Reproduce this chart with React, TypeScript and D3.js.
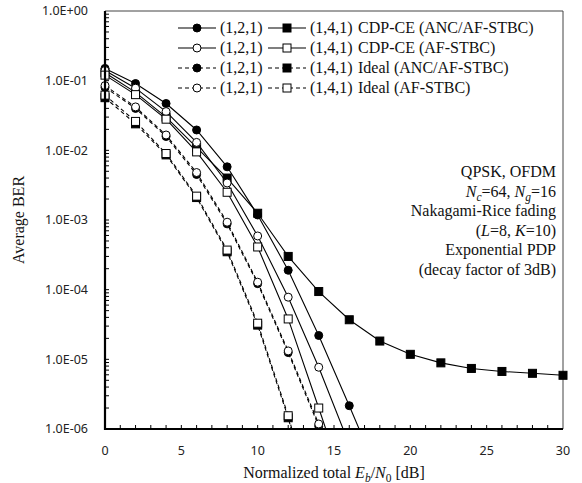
import React, { useRef, useEffect } from 'react';
import * as d3 from 'd3';

// tick values and labels
const xTicks = [0, 5, 10, 15, 20, 25, 30];
const yTicks = [1e-6, 1e-5, 1e-4, 1e-3, 1e-2, 1e-1, 1];
const yTickLabels = ['1.0E-06', '1.0E-05', '1.0E-04', '1.0E-03', '1.0E-02', '1.0E-01', '1.0E+00'];

// CDP-CE (ANC/AF-STBC)
const snrCdpAnc121 = [0, 2, 4, 6, 8, 10, 12, 14, 16, 18];
const cdpAnc121 = [0.15, 0.091, 0.047, 0.0196, 0.0058, 0.00118, 0.00019, 2.2e-5, 2.16e-6, 2.0e-7];
const snrCdpAnc141 = [0, 2, 4, 6, 8, 10, 12, 14, 16, 18, 20, 22, 24, 26, 28, 30];
const cdpAnc141 = [0.13, 0.068, 0.030, 0.011, 0.0040, 0.00125, 0.00030, 9.4e-5, 3.7e-5, 1.83e-5, 1.18e-5, 8.9e-6, 7.4e-6, 6.7e-6, 6.3e-6, 5.9e-6];

// CDP-CE (AF-STBC)
const snrCdpAf = [0, 2, 4, 6, 8, 10, 12, 14, 16];
const cdpAf121 = [0.14, 0.078, 0.036, 0.013, 0.0034, 0.00059, 7.8e-5, 7.7e-6, 6.0e-7];
const cdpAf141 = [0.12, 0.063, 0.028, 0.0095, 0.0025, 0.00041, 3.8e-5, 2.0e-6, 1.0e-7];

// Ideal channel estimation
const snrIdeal121 = [0, 2, 4, 6, 8, 10, 12, 14, 16];
const idealAnc121 = [0.08, 0.040, 0.0158, 0.0045, 0.00088, 0.000122, 1.25e-5, 1.1e-6, 7e-8];
const idealAf121 = [0.085, 0.042, 0.0166, 0.0048, 0.00093, 0.000128, 1.32e-5, 1.18e-6, 8e-8];
const snrIdeal141 = [0, 2, 4, 6, 8, 10, 12, 14];
const idealAnc141 = [0.057, 0.024, 0.0086, 0.0021, 0.00035, 3.1e-5, 1.45e-6, 3.5e-8];
const idealAf141 = [0.062, 0.026, 0.0090, 0.0022, 0.00037, 3.3e-5, 1.55e-6, 4e-8];

const configLabels = ['(1,2,1)', '(1,4,1)'];
const schemeLabels = ['CDP-CE (ANC/AF-STBC)', 'CDP-CE (AF-STBC)', 'Ideal (ANC/AF-STBC)', 'Ideal (AF-STBC)'];

const series = [
    { x: snrCdpAnc121, y: cdpAnc121, shape: 'circle', filled: true, dashed: false },
    { x: snrCdpAnc141, y: cdpAnc141, shape: 'square', filled: true, dashed: false },
    { x: snrCdpAf, y: cdpAf121, shape: 'circle', filled: false, dashed: false },
    { x: snrCdpAf, y: cdpAf141, shape: 'square', filled: false, dashed: false },
    { x: snrIdeal121, y: idealAnc121, shape: 'circle', filled: true, dashed: true },
    { x: snrIdeal141, y: idealAnc141, shape: 'square', filled: true, dashed: true },
    { x: snrIdeal121, y: idealAf121, shape: 'circle', filled: false, dashed: true },
    { x: snrIdeal141, y: idealAf141, shape: 'square', filled: false, dashed: true },
];

const W = 582;
const H = 483;
const SERIF = '"Liberation Serif", "Times New Roman", serif';
const SANS = '"Noto Sans", "Open Sans", sans-serif';
const FS = 16;

const drawMarker = (g, shape, filled, cx, cy) => {
    const fill = filled ? '#000' : '#fff';
    if (shape === 'circle') {
        g.append('circle').attr('cx', cx).attr('cy', cy).attr('r', 4)
            .attr('fill', fill).attr('stroke', '#000').attr('stroke-width', 1);
    } else {
        g.append('rect').attr('x', cx - 4).attr('y', cy - 4).attr('width', 8).attr('height', 8)
            .attr('fill', fill).attr('stroke', '#000').attr('stroke-width', 1);
    }
};

const BerChart = () => {
    const ref = useRef(null);

    useEffect(() => {
        document.body.style.margin = '0';
        const svg = d3.select(ref.current);
        svg.selectAll('*').remove();

        const left = 105, right = 563, top = 11, bottom = 429;
        const x = d3.scaleLinear().domain([0, 30]).range([left, right]);
        const y = d3.scaleLog().domain([1e-6, 1]).range([bottom, top]);

        svg.append('defs').append('clipPath').attr('id', 'plot-clip')
            .append('rect').attr('x', left - 6).attr('y', top).attr('width', right - left + 12).attr('height', bottom - top);

        // frame (thin top/right)
        svg.append('path')
            .attr('d', `M${left},${top}H${right}V${bottom}`)
            .attr('fill', 'none').attr('stroke', '#444').attr('stroke-width', 1);

        // minor ticks x (inside)
        const xMinor = d3.range(1, 30);
        svg.append('g').selectAll('line').data(xMinor).join('line')
            .attr('x1', d => x(d)).attr('x2', d => x(d))
            .attr('y1', bottom).attr('y2', bottom - 4)
            .attr('stroke', '#000').attr('stroke-width', 1);

        // minor ticks y (inside)
        const yMinor = [];
        for (let e = -6; e < 0; e++) for (let m = 1; m < 10; m++) yMinor.push(m * Math.pow(10, e));
        svg.append('g').selectAll('line').data(yMinor).join('line')
            .attr('x1', left).attr('x2', left + 4)
            .attr('y1', d => y(d)).attr('y2', d => y(d))
            .attr('stroke', '#000').attr('stroke-width', 1);

        // y tick labels
        svg.append('g').selectAll('text').data(yTicks).join('text')
            .attr('x', left - 17).attr('y', d => y(d)).attr('dy', '0.35em')
            .attr('text-anchor', 'end').attr('font-family', SANS).attr('font-size', 12.5)
            .attr('fill', '#222')
            .text((d, i) => yTickLabels[i]);

        // x tick labels
        svg.append('g').selectAll('text').data(xTicks).join('text')
            .attr('x', d => x(d)).attr('y', bottom + 26)
            .attr('text-anchor', 'middle').attr('font-family', SANS).attr('font-size', 12.5)
            .attr('fill', '#222')
            .text(d => d);

        // series
        const plot = svg.append('g').attr('clip-path', 'url(#plot-clip)');
        series.forEach(s => {
            const pts = s.x.map((v, i) => [v, s.y[i]]);
            const line = d3.line().x(d => x(d[0])).y(d => y(d[1]));
            plot.append('path').datum(pts)
                .attr('d', line).attr('fill', 'none').attr('stroke', '#000')
                .attr('stroke-width', 1.1)
                .attr('stroke-dasharray', s.dashed ? '4,3' : null);
            pts.forEach(p => drawMarker(plot, s.shape, s.filled, x(p[0]), y(p[1])));
        });

        // main axes (thick left/bottom)
        svg.append('path')
            .attr('d', `M${left},${top}V${bottom}H${right}`)
            .attr('fill', 'none').attr('stroke', '#000').attr('stroke-width', 2.2);

        // legend
        const legend = svg.append('g').attr('font-family', SERIF).attr('font-size', FS).attr('fill', '#111');
        schemeLabels.forEach((label, r) => {
            const ly = 28 + r * 20;
            const dashed = r >= 2;
            const filled = r % 2 === 0;
            [0, 1].forEach(c => {
                const x0 = 178 + c * 90;
                legend.append('line')
                    .attr('x1', x0).attr('x2', x0 + 38).attr('y1', ly).attr('y2', ly)
                    .attr('stroke', '#000').attr('stroke-width', 1.1)
                    .attr('stroke-dasharray', dashed ? '4,3' : null);
                drawMarker(legend, c === 0 ? 'circle' : 'square', filled, x0 + 19, ly);
                legend.append('text').attr('x', x0 + 42).attr('y', ly + 5).text(configLabels[c]);
            });
            legend.append('text').attr('x', 358).attr('y', ly + 5).text(label);
        });

        // annotation
        const note = svg.append('g').attr('font-family', SERIF).attr('font-size', FS).attr('fill', '#111')
            .attr('text-anchor', 'end');
        const noteX = 556;
        const lines = [
            [['QPSK, OFDM']],
            [['N', 'i'], ['c', 'is'], ['=64, '], ['N', 'i'], ['g', 'is'], ['=16']],
            [['Nakagami-Rice fading']],
            [['('], ['L', 'i'], ['=8, '], ['K', 'i'], ['=10)']],
            [['Exponential PDP']],
            [['(decay factor of 3dB)']],
        ];
        lines.forEach((parts, i) => {
            const t = note.append('text').attr('x', noteX).attr('y', 177 + i * 19.5);
            let sub = false;
            parts.forEach(([txt, style]) => {
                const isSub = style && style.includes('s');
                const ts = t.append('tspan').text(txt);
                if (style && style.includes('i')) ts.attr('font-style', 'italic');
                if (isSub) ts.attr('font-size', 11.5);
                if (isSub && !sub) { ts.attr('dy', 4); sub = true; }
                else if (!isSub && sub) { ts.attr('dy', -4); sub = false; }
            });
        });

        // axis titles
        svg.append('text')
            .attr('transform', `translate(24,${(top + bottom) / 2}) rotate(-90)`)
            .attr('text-anchor', 'middle').attr('font-family', SERIF).attr('font-size', FS).attr('fill', '#111')
            .text('Average BER');

        const xt = svg.append('text')
            .attr('x', (left + right) / 2).attr('y', 478)
            .attr('text-anchor', 'middle').attr('font-family', SERIF).attr('font-size', FS).attr('fill', '#111');
        xt.append('tspan').text('Normalized total ');
        xt.append('tspan').attr('font-style', 'italic').text('E');
        xt.append('tspan').attr('font-style', 'italic').attr('font-size', 11.5).attr('dy', 4).text('b');
        xt.append('tspan').attr('dy', -4).text('/');
        xt.append('tspan').attr('font-style', 'italic').text('N');
        xt.append('tspan').attr('font-size', 11.5).attr('dy', 4).text('0');
        xt.append('tspan').attr('dy', -4).text(' [dB]');
    }, []);

    return <svg ref={ref} width={W} height={H} style={{ display: 'block', background: '#fff' }} />;
};

export default function App() {
    return <BerChart />;
}
